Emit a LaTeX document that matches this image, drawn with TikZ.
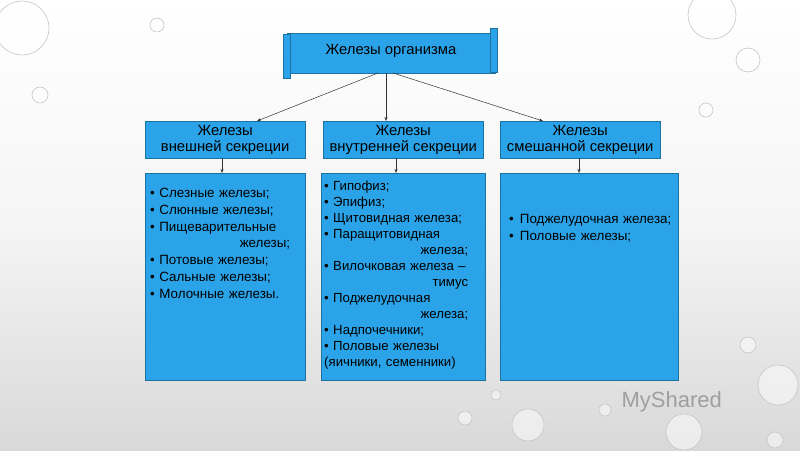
\documentclass[tikz,border=0pt]{standalone}
\usepackage{fontspec}
\setmainfont{Liberation Sans}
\usetikzlibrary{arrows.meta}
\begin{document}
\begin{tikzpicture}[x=1pt,y=-1pt,
  bluebox/.style={draw=myblue!70!black, line width=0.4pt, fill=myblue},
  txt/.style={font=\fontsize{13.4}{16.8}\selectfont, align=left, anchor=north west, inner sep=0pt},
  hdr/.style={font=\fontsize{14.8}{16}\selectfont, align=center, inner sep=0pt},
  arr/.style={-{Stealth[length=4pt,width=3pt]}, line width=0.5pt, black!80},
  drop/.style={draw=gray!45, line width=0.6pt, fill=white, fill opacity=0.5}]
\definecolor{myblue}{RGB}{43,163,232}
\useasboundingbox (0,0) rectangle (800,450);
\shade[top color=white, bottom color=gray!30, middle color=gray!8] (0,0) rectangle (800,450);
% droplets
\foreach \x/\y/\r in {22/28/27,40/95/8,157/25/7,712/15/24,748/60/12,706/110/7,778/385/20,528/425/16,465/418/7,748/345/8,684/432/18,605/410/6,496/395/5,775/440/8}
  \path[drop] (\x,\y) circle (\r);
% title scroll
\path[bluebox] (287,33) rectangle (495,73);
\path[bluebox] (283,34) rectangle (290,78);
\path[bluebox] (490,28) rectangle (497,72);
\node[hdr] (title) at (391,51) {Железы организма};
\coordinate (t1) at (378,73); \coordinate (t2) at (386,73); \coordinate (t3) at (393,73);
% headers
\node[bluebox, minimum width=160, minimum height=37, hdr, anchor=north west] (h1) at (145,121) {Железы\\внешней секреции};
\node[bluebox, minimum width=160, minimum height=37, hdr, anchor=north west] (h2) at (323,121) {Железы\\внутренней секреции};
\node[bluebox, minimum width=160, minimum height=37, hdr, anchor=north west] (h3) at (500,121) {Железы\\смешанной секреции};
% contents
\node[bluebox, minimum width=160, minimum height=207, anchor=north west] (c1) at (145,173) {};
\node[bluebox, minimum width=164, minimum height=207, anchor=north west] (c2) at (321,173) {};
\node[bluebox, minimum width=178, minimum height=207, anchor=north west] (c3) at (500,173) {};
\draw[arr] (t1) -- (257,121);
\draw[arr] (t2) -- (h2.north -| t2);
\draw[arr] (t3) -- (543,121);
\draw[arr] (h1.south -| 222,0) -- (c1.north -| 222,0);
\draw[arr] (h2.south -| 396,0) -- (c2.north -| 396,0);
\draw[arr] (h3.south -| 579,0) -- (c3.north -| 579,0);
\node[txt, text width=140] (l1) at (150,188) {• Слезные железы;\\• Слюнные железы;\\• Пищеварительные\\\hfill железы;\hspace*{12pt}\\• Потовые железы;\\• Сальные железы;\\• Молочные железы.};
\node[txt, text width=144, font=\fontsize{13.2}{16}\selectfont] (l2) at (324,181) {• Гипофиз;\\• Эпифиз;\\• Щитовидная железа;\\• Паращитовидная\\\hfill железа;\hspace*{3pt}\\• Вилочковая железа –\\\hfill тимус\hspace*{2pt}\\• Поджелудочная\\\hfill железа;\\• Надпочечники;\\• Половые железы\\(яичники, семенники)};
\node[txt, text width=175] (l3) at (509,214) {•\hspace{6pt}Поджелудочная железа;\\•\hspace{6pt}Половые железы;};
\node[font=\fontsize{22}{22}\selectfont, text=gray!75, anchor=west] (logo) at (618,402) {MyShared};
\end{tikzpicture}
\end{document}
